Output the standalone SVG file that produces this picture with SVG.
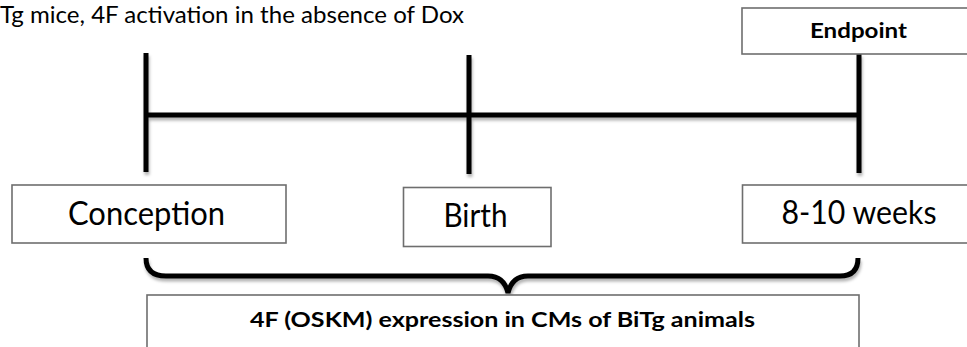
<svg xmlns="http://www.w3.org/2000/svg" width="967" height="347" viewBox="0 0 967 347">
<style>
  .box { fill: #ffffff; stroke: #6e6e6e; stroke-width: 1.6; }
  .lbl { font-family: Lato, "Open Sans", "Liberation Sans", sans-serif; fill: #000; }
  .big { font-size: 33px; }
  .bold { font-size: 20px; font-weight: bold; }
  .line { stroke: #000; stroke-width: 5; fill: none; stroke-linecap: butt; }
</style>
<defs>
  <filter id="sh" x="-10%" y="-20%" width="120%" height="160%">
    <feDropShadow dx="1" dy="3" stdDeviation="1.5" flood-color="#000" flood-opacity="0.3"/>
  </filter>
</defs>
<rect width="967" height="347" fill="#ffffff"/>
<g id="title">
  <text class="lbl" x="0" y="22.5" font-size="24" textLength="464" lengthAdjust="spacingAndGlyphs">Tg mice, 4F activation in the absence of Dox</text>
</g>
<g id="connectors" filter="url(#sh)">
  <line class="line" x1="146" y1="53" x2="146" y2="172"/>
  <line class="line" x1="469" y1="55" x2="469" y2="174"/>
  <line class="line" x1="859" y1="54" x2="859" y2="173"/>
  <line class="line" x1="146" y1="115" x2="859" y2="115"/>
  <path class="line" d="M146,258 Q146,276 166,276 L488,276 Q504,276 508,293 Q512,276 528,276 L840,276 Q858,276 858,258"/>
</g>
<g id="endpoint">
  <rect class="box" x="742" y="8" width="240" height="46"/>
  <text class="lbl bold" x="858.5" y="38" text-anchor="middle" textLength="97" lengthAdjust="spacingAndGlyphs">Endpoint</text>
</g>
<g id="conception">
  <rect class="box" x="12" y="185" width="274" height="58"/>
  <text class="lbl big" x="146.5" y="225" text-anchor="middle" textLength="157" lengthAdjust="spacingAndGlyphs">Conception</text>
</g>
<g id="birth">
  <rect class="box" x="403.5" y="187.5" width="147.5" height="59"/>
  <text class="lbl big" x="475.5" y="226.5" text-anchor="middle" textLength="64" lengthAdjust="spacingAndGlyphs">Birth</text>
</g>
<g id="weeks">
  <rect class="box" x="742.5" y="185" width="240" height="58"/>
  <text class="lbl big" x="859" y="224" text-anchor="middle" textLength="155" lengthAdjust="spacingAndGlyphs">8-10 weeks</text>
</g>
<g id="expression">
  <rect class="box" x="147" y="295" width="712" height="70"/>
  <text class="lbl bold" x="502.5" y="326.5" text-anchor="middle" textLength="505" lengthAdjust="spacingAndGlyphs">4F (OSKM) expression in CMs of BiTg animals</text>
</g>
</svg>
